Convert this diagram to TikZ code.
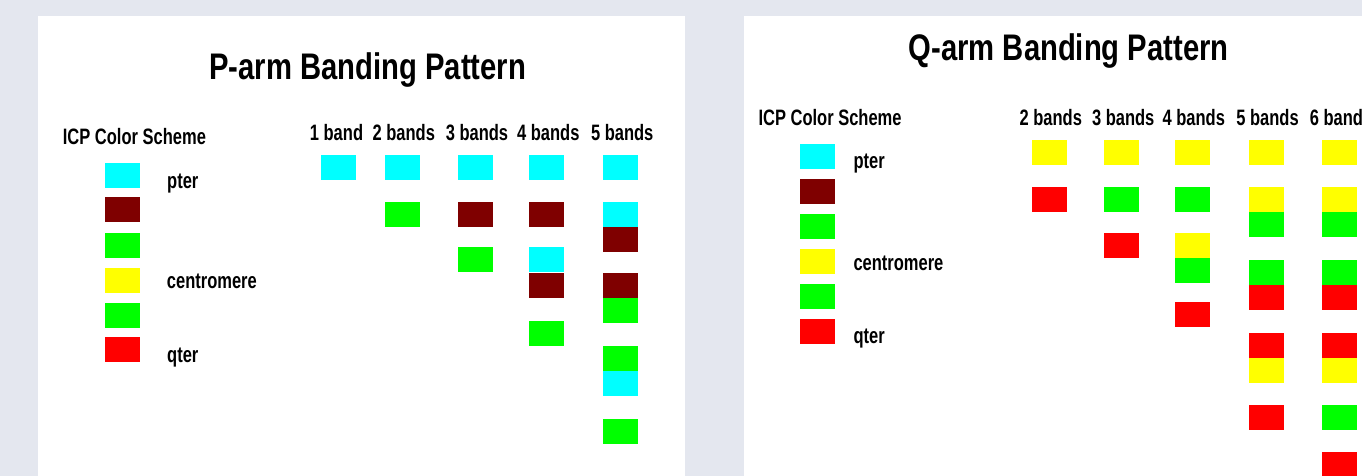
\documentclass[tikz,border=0pt]{standalone}
\usepackage{fontspec}
\newfontfamily\nar{Liberation Sans}[FakeStretch=0.79]
\newfontfamily\narr{Liberation Sans}[FakeStretch=0.74]
\definecolor{bgC}{HTML}{E4E7EF}
\definecolor{cyanC}{HTML}{00FFFF}
\definecolor{brownC}{HTML}{7F0000}
\definecolor{greenC}{HTML}{00FF00}
\definecolor{yellowC}{HTML}{FFFF00}
\definecolor{redC}{HTML}{FF0000}
\tikzset{
  band/.style={rectangle, inner sep=0pt, outer sep=0pt, minimum width=35pt, minimum height=25pt, anchor=north west, draw=none},
  ttl/.style={inner sep=0pt, anchor=base, font=\nar\bfseries\fontsize{37}{40}\selectfont},
  lbl/.style={inner sep=0pt, anchor=base west, font=\narr\bfseries\fontsize{22.3}{25}\selectfont},
  hdr/.style={inner sep=0pt, anchor=base, font=\narr\bfseries\fontsize{22.3}{25}\selectfont},
  panel/.style={fill=white, draw=none}
}
\begin{document}
\begin{tikzpicture}[x=1pt, y=-1pt]
\useasboundingbox (0,0) rectangle (1362,476);
\clip (0,0) rectangle (1362,476);
\fill[bgC] (0,0) rectangle (1362,476);
% panels
\path[panel] (38,16) rectangle (685,480);
\path[panel] (744,16) rectangle (1370,480);

% ---------------- Left panel: P-arm ----------------
\node[ttl] (ptitle) at (367.7,80) {P-arm Banding Pattern};
\node[lbl] (pscheme) at (62.7,145) {ICP Color Scheme};
\foreach \col/\t [count=\i] in {cyanC/162.7, brownC/197.3, greenC/232.7, yellowC/268.3, greenC/303.3, redC/337.3}
  {\node[band, fill=\col] (pleg-\i) at (105,\t) {};}
\node[lbl] (ppter) at (167,188) {pter};
\node[lbl] (pcen) at (166.7,288.3) {centromere};
\node[lbl] (pqter) at (167,362.3) {qter};

\node[hdr] (ph1) at (336.5,141) {1 band};
\node[hdr] (ph2) at (403.8,141) {2 bands};
\node[hdr] (ph3) at (477,141) {3 bands};
\node[hdr] (ph4) at (548.3,141) {4 bands};
\node[hdr] (ph5) at (622.2,141) {5 bands};

\foreach \col/\t [count=\i] in {cyanC/155}
  {\node[band, fill=\col] (pc1-\i) at (320.5,\t) {};}
\foreach \col/\t [count=\i] in {cyanC/155, greenC/201.7}
  {\node[band, fill=\col] (pc2-\i) at (385.3,\t) {};}
\foreach \col/\t [count=\i] in {cyanC/155, brownC/201.7, greenC/247.3}
  {\node[band, fill=\col] (pc3-\i) at (458,\t) {};}
\foreach \col/\t [count=\i] in {cyanC/155, brownC/201.7, cyanC/247.3, brownC/272.5, greenC/320.7}
  {\node[band, fill=\col] (pc4-\i) at (529.3,\t) {};}
\foreach \col/\t [count=\i] in {cyanC/155, cyanC/201.7, brownC/226.7, brownC/272.7, greenC/297.7, greenC/346, cyanC/371, greenC/419.3}
  {\node[band, fill=\col] (pc5-\i) at (602.7,\t) {};}

% ---------------- Right panel: Q-arm ----------------
\node[ttl] (qtitle) at (1068.7,61) {Q-arm Banding Pattern};
\node[lbl] (qscheme) at (758.3,125) {ICP Color Scheme};
\foreach \col/\t [count=\i] in {cyanC/144, brownC/179, greenC/214.3, yellowC/249.3, greenC/284.3, redC/318.7}
  {\node[band, fill=\col] (qleg-\i) at (800,\t) {};}
\node[lbl] (qpter) at (853.3,168.3) {pter};
\node[lbl] (qcen) at (853.3,270.7) {centromere};
\node[lbl] (qqter) at (853.3,343.3) {qter};

\node[hdr] (qh2) at (1050.8,125) {2 bands};
\node[hdr] (qh3) at (1123.2,125) {3 bands};
\node[hdr] (qh4) at (1193.8,125) {4 bands};
\node[hdr] (qh5) at (1267.5,125) {5 bands};
\node[hdr] (qh6) at (1341,125) {6 bands};

\foreach \col/\t [count=\i] in {yellowC/140, redC/187.3}
  {\node[band, fill=\col] (qc2-\i) at (1032.3,\t) {};}
\foreach \col/\t [count=\i] in {yellowC/140, greenC/187.3, redC/233.3}
  {\node[band, fill=\col] (qc3-\i) at (1104.3,\t) {};}
\foreach \col/\t [count=\i] in {yellowC/140, greenC/187.3, yellowC/233.3, greenC/258.3, redC/302.3}
  {\node[band, fill=\col] (qc4-\i) at (1175,\t) {};}
\foreach \col/\t [count=\i] in {yellowC/140, yellowC/187.3, greenC/212.3, greenC/260, redC/285, redC/333.3, yellowC/358.3, redC/405}
  {\node[band, fill=\col] (qc5-\i) at (1248.7,\t) {};}
\foreach \col/\t [count=\i] in {yellowC/140, yellowC/187.3, greenC/212.3, greenC/260, redC/285, redC/333.3, yellowC/358.3, greenC/405, redC/451.7}
  {\node[band, fill=\col] (qc6-\i) at (1322,\t) {};}
\end{tikzpicture}
\end{document}
